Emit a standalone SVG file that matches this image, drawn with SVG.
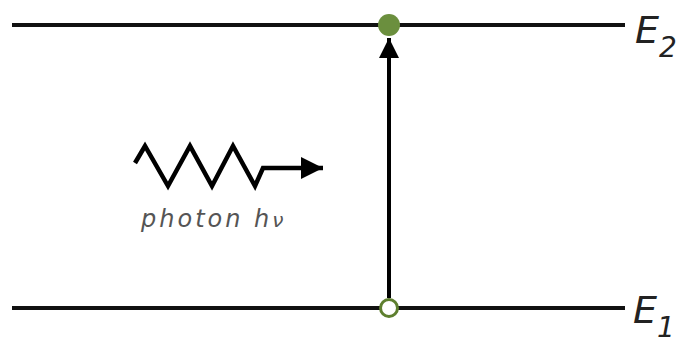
<svg xmlns="http://www.w3.org/2000/svg" width="678" height="345" viewBox="0 0 678 345">
<style>
.lvl{stroke:#111;stroke-width:4;fill:none}
.lbl{font-family:"DejaVu Sans",sans-serif;font-style:italic;fill:#222}
</style>
<defs>
<marker id="ah" viewBox="0 0 10 10" refX="10" refY="5" markerWidth="5" markerHeight="5" orient="auto" markerUnits="strokeWidth">
<path d="M0,0 L10,5 L0,10 z" fill="#000"/>
</marker>
</defs>
<rect width="678" height="345" fill="#fff"/>
<g id="level-E2">
<line class="lvl" x1="12" y1="25" x2="625" y2="25"/>
<text class="lbl" x="635" y="43" font-size="38">E<tspan font-size="28" dy="14">2</tspan></text>
</g>
<g id="level-E1">
<line class="lvl" x1="12" y1="308" x2="625" y2="308"/>
<text class="lbl" x="633" y="323" font-size="38">E<tspan font-size="28" dy="14">1</tspan></text>
</g>
<g id="connectors">
<line x1="389" y1="298" x2="389" y2="38" stroke="#000" stroke-width="4" marker-end="url(#ah)"/>
</g>
<g id="photon">
<polyline points="135,163 145,146 168,186 190,146 212,186 233,146 255,186 263,168 323,168" fill="none" stroke="#000" stroke-width="4.5" stroke-linejoin="miter" marker-end="url(#ah)"/>
<text x="141" y="227" font-family="DejaVu Sans,sans-serif" font-style="italic" font-size="24" letter-spacing="3" fill="#555">photon h<tspan font-size="20">ν</tspan></text>
</g>
<g id="state-upper">
<circle cx="389" cy="25" r="11" fill="#6b8f3e"/>
</g>
<g id="state-lower">
<circle cx="389" cy="308" r="8.5" fill="#fff" stroke="#5e7f2f" stroke-width="3"/>
</g>
</svg>
